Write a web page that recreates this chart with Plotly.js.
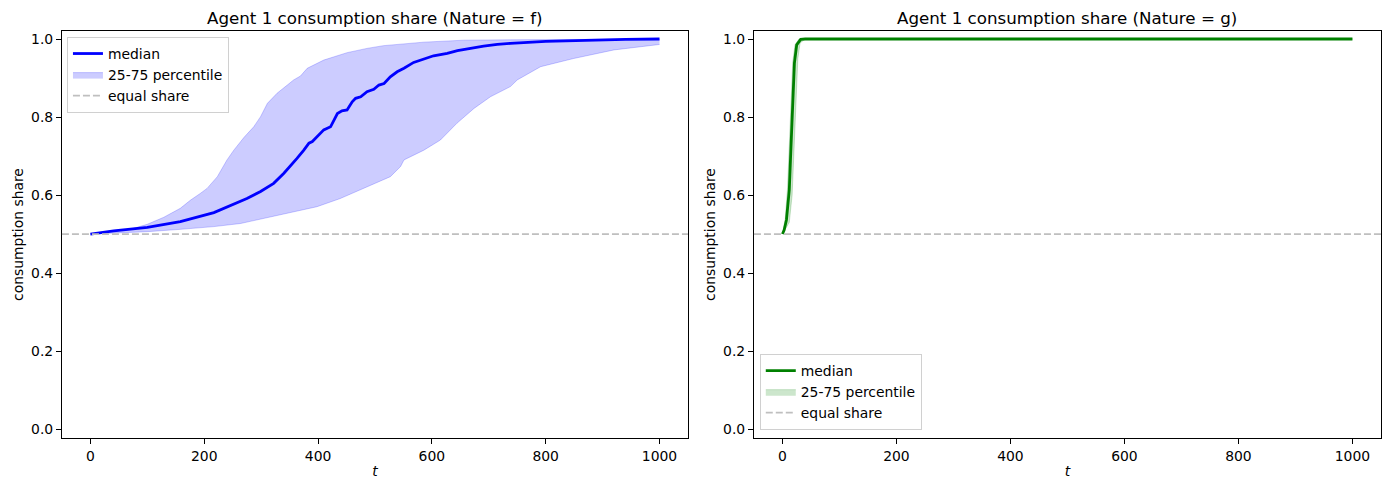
<!DOCTYPE html>
<html>
<head>
<meta charset="utf-8">
<script src="https://cdn.plot.ly/plotly-3.0.1.min.js"></script>
<style>
  html, body { margin: 0; padding: 0; background: #fff; }
  #chart { width: 1389px; height: 490px; }
</style>
</head>
<body>
<div id="chart"></div>
<script>
// --- Nature = f (left panel) ---
const tMedF = [0, 41, 100, 158, 217, 275, 299, 322, 340, 351, 363, 375, 384, 390, 398, 410, 422, 428, 434, 442, 451, 460, 466, 475, 486, 498, 507, 516, 527, 539, 551, 568, 586, 603, 627, 645, 668, 691, 715, 738, 800, 870, 940, 1000];
const medF  = [0.500, 0.508, 0.517, 0.532, 0.555, 0.591, 0.609, 0.630, 0.656, 0.673, 0.694, 0.715, 0.733, 0.737, 0.750, 0.767, 0.775, 0.792, 0.809, 0.816, 0.818, 0.839, 0.848, 0.852, 0.865, 0.871, 0.882, 0.886, 0.903, 0.916, 0.925, 0.940, 0.949, 0.957, 0.963, 0.970, 0.976, 0.982, 0.986, 0.989, 0.994, 0.997, 0.999, 1.000];

const tHighF = [0, 41, 70, 100, 129, 158, 176, 193, 205, 223, 240, 252, 270, 287, 299, 311, 328, 346, 357, 369, 381, 410, 451, 486, 515, 586, 656, 738, 850, 1000];
const highF  = [0.500, 0.506, 0.512, 0.525, 0.543, 0.566, 0.587, 0.604, 0.617, 0.647, 0.690, 0.715, 0.748, 0.775, 0.801, 0.835, 0.861, 0.882, 0.895, 0.905, 0.925, 0.946, 0.965, 0.976, 0.983, 0.992, 0.997, 0.998, 0.999, 1.000];

const tLowF = [0, 41, 100, 158, 217, 264, 305, 334, 369, 398, 439, 486, 527, 545, 551, 586, 615, 644, 674, 703, 738, 750, 791, 849, 920, 1000];
const lowF  = [0.500, 0.502, 0.506, 0.512, 0.519, 0.527, 0.540, 0.549, 0.562, 0.570, 0.591, 0.621, 0.647, 0.673, 0.690, 0.715, 0.741, 0.784, 0.822, 0.852, 0.878, 0.895, 0.929, 0.950, 0.972, 0.986];

// --- Nature = g (right panel) ---
const tMedG = [0, 3, 7, 10, 12, 15, 18, 21, 25, 32, 40, 1000];
const medG  = [0.500, 0.510, 0.536, 0.575, 0.613, 0.724, 0.852, 0.938, 0.985, 0.999, 1.000, 1.000];

const tHighG = [0, 5, 9, 12, 15, 18, 22, 29, 1000];
const highG  = [0.500, 0.540, 0.620, 0.730, 0.860, 0.940, 0.985, 1.000, 1.000];

const tLowG = [0, 12, 17, 21, 24, 27, 31, 40, 1000];
const lowG  = [0.500, 0.530, 0.600, 0.740, 0.870, 0.950, 0.990, 1.000, 1.000];

const equalShare = 0.5;

const titles = ['Agent 1 consumption share (Nature = f)', 'Agent 1 consumption share (Nature = g)'];
const yTicks = [0, 0.2, 0.4, 0.6, 0.8, 1.0];
const xTicks = [0, 200, 400, 600, 800, 1000];

const fontFam = 'DejaVu Sans, sans-serif';
const fs = 13.9;   // 10pt at 100 dpi

function bandTraces(tLow, low, tHigh, high, rgb, xa, ya, leg) {
    const edge = 'rgba(' + rgb + ',0.2)';
    return [
        { x: tLow, y: low, type: 'scatter', mode: 'lines', line: { color: edge, width: 1 },
          xaxis: xa, yaxis: ya, showlegend: false, hoverinfo: 'skip', legend: leg },
        { x: tHigh, y: high, type: 'scatter', mode: 'lines', line: { color: edge, width: 1 },
          fill: 'tonexty', fillcolor: 'rgba(' + rgb + ',0.2)',
          xaxis: xa, yaxis: ya, name: '25-75 percentile', legend: leg, legendrank: 2 }
    ];
}

const traces = [
    ...bandTraces(tLowF, lowF, tHighF, highF, '0,0,255', 'x', 'y', 'legend'),
    { x: tMedF, y: medF, type: 'scatter', mode: 'lines', line: { color: '#0000ff', width: 2.8 },
      xaxis: 'x', yaxis: 'y', name: 'median', legend: 'legend', legendrank: 1 },
    ...bandTraces(tLowG, lowG, tHighG, highG, '0,128,0', 'x2', 'y2', 'legend2'),
    { x: tMedG, y: medG, type: 'scatter', mode: 'lines', line: { color: '#008000', width: 2.8 },
      xaxis: 'x2', yaxis: 'y2', name: 'median', legend: 'legend2', legendrank: 1 }
];

function xAxis(dom, anchor) {
    return {
        domain: dom, anchor: anchor, range: [-50, 1050],
        tickvals: xTicks, ticks: 'outside', ticklen: 5, tickcolor: '#000',
        showline: true, linecolor: '#000', linewidth: 1, mirror: true,
        showgrid: false, zeroline: false,
        tickfont: { family: fontFam, size: fs, color: '#000' },
        title: { text: '<i>t</i>', font: { family: fontFam, size: fs, color: '#000' }, standoff: 3 }
    };
}
function yAxis(anchor) {
    return {
        domain: [0.1061, 0.9367], anchor: anchor, range: [-0.023, 1.0205],
        tickvals: yTicks, tickformat: '.1f', ticks: 'outside', ticklen: 5, tickcolor: '#000',
        showline: true, linecolor: '#000', linewidth: 1, mirror: true,
        showgrid: false, zeroline: false,
        tickfont: { family: fontFam, size: fs, color: '#000' },
        title: { text: 'consumption share', font: { family: fontFam, size: fs, color: '#000' }, standoff: 4 }
    };
}

function eqLine(xa, ya, leg) {
    return {
        type: 'line', xref: xa + ' domain', x0: 0, x1: 1, yref: ya, y0: equalShare, y1: equalShare,
        line: { color: '#bfbfbf', width: 1.8, dash: '7px,3px' },
        showlegend: true, name: 'equal share', legend: leg, legendrank: 3
    };
}

const legendStyle = {
    bgcolor: 'rgba(255,255,255,0.8)', bordercolor: '#d0d0d0', borderwidth: 1,
    font: { family: fontFam, size: fs, color: '#000' }, itemwidth: 30, traceorder: 'normal'
};

const layout = {
    width: 1389, height: 490,
    margin: { l: 0, r: 0, t: 0, b: 0 },
    paper_bgcolor: '#fff', plot_bgcolor: '#fff',
    font: { family: fontFam, color: '#000' },
    xaxis: xAxis([0.0446, 0.4953], 'y'),
    yaxis: yAxis('x'),
    xaxis2: xAxis([0.5428, 0.9942], 'y2'),
    yaxis2: yAxis('x2'),
    shapes: [eqLine('x', 'y', 'legend'), eqLine('x2', 'y2', 'legend2')],
    legend: Object.assign({ x: 0.0482, y: 0.9245, xanchor: 'left', yanchor: 'top' }, legendStyle),
    legend2: Object.assign({ x: 0.547, y: 0.1224, xanchor: 'left', yanchor: 'bottom' }, legendStyle),
    annotations: titles.map((txt, i) => ({
        text: txt, showarrow: false,
        xref: (i === 0 ? 'x' : 'x2') + ' domain', x: 0.5, xanchor: 'center',
        yref: (i === 0 ? 'y' : 'y2') + ' domain', y: 1, yanchor: 'bottom', yshift: 1,
        font: { family: fontFam, size: 16.7, color: '#000' }
    }))
};

Plotly.newPlot('chart', traces, layout, { displayModeBar: false, staticPlot: true });
</script>
</body>
</html>
